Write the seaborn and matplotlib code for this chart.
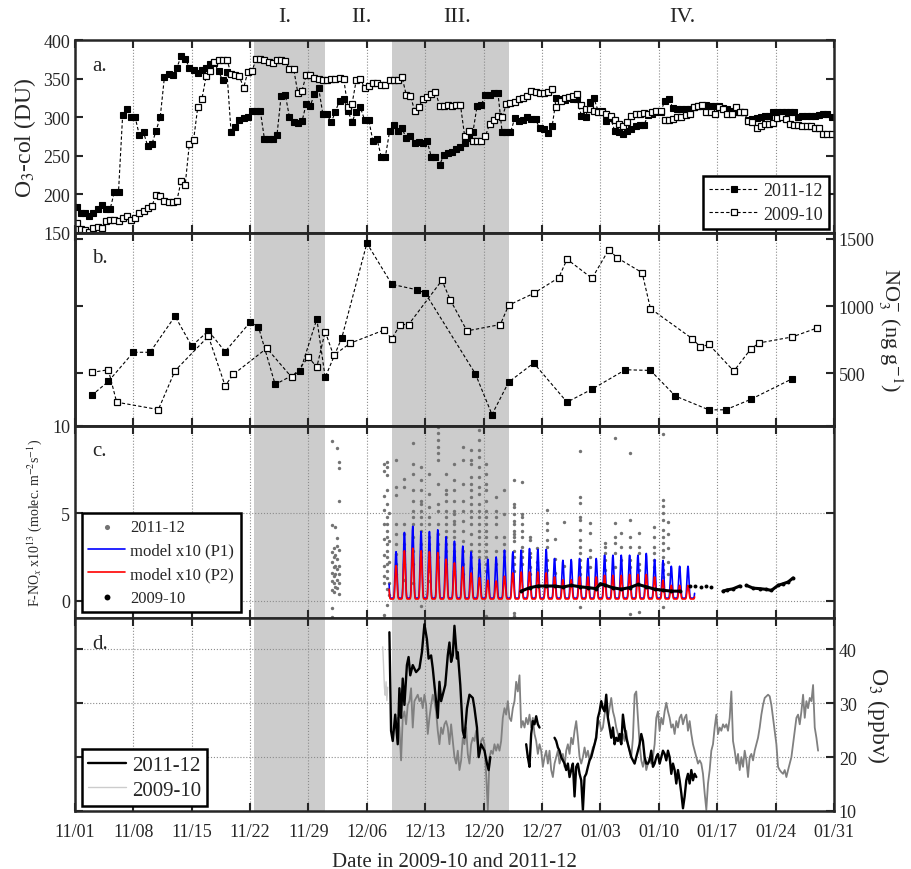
import numpy as np
import pandas as pd
import matplotlib
matplotlib.use('Agg')
import matplotlib.pyplot as plt
import seaborn as sns

# ------------------------------
# 横軸 : 11/01 からの日数
# ------------------------------
tick_days = [0, 7, 14, 21, 28, 35, 42, 49, 56, 63, 70, 77, 84, 91]
tick_labels = ['11/01', '11/08', '11/15', '11/22', '11/29', '12/06', '12/13',
               '12/20', '12/27', '01/03', '01/10', '01/17', '01/24', '01/31']
period_names = ['I.', 'II.', 'III.', 'IV.']
period_days = [25.1, 34.4, 45.8, 72.8]
shade_start = [21.5, 38.0]
shade_end = [30.0, 52.0]

# ------------------------------
# a. O3 column (DU)  1日2回, 0.22日から0.5日おき
# ------------------------------
o3col_first_day = 0.22
o3col_step = 0.5
o3col_2011 = [183.5, 175.6, 175.6, 172.2, 175.2, 180.9, 185.7, 180.9, 180.9, 203.1,
              203.1, 303.3, 310.7, 299.8, 299.8, 276.7, 280.2, 262.8, 264.9, 282.4,
              299.8, 351.6, 356.0, 354.2, 364.2, 379.1, 376.0, 364.2, 361.6, 357.7,
              360.8, 364.2, 369.0, 370.8, 359.4, 347.7, 358.6, 280.2, 287.6, 296.7,
              298.5, 299.8, 308.5, 308.5, 308.5, 271.5, 271.5, 271.5, 276.7, 328.1,
              329.4, 299.8, 293.3, 292.4, 294.6, 317.2, 315.0, 330.3, 337.7, 304.1,
              304.1, 293.3, 307.2, 321.6, 323.7, 308.5, 294.1, 307.2, 312.8, 296.7,
              296.7, 269.3, 271.5, 248.8, 248.8, 281.5, 289.8, 282.4, 285.4, 272.8,
              275.8, 267.1, 268.0, 266.3, 269.3, 248.8, 248.8, 238.0, 251.0, 253.2,
              255.4, 258.4,
              262.0, 267.1, 273.7, 281.1, 315.0, 315.9, 329.4, 329.4, 331.1, 331.1,
              280.2, 280.2, 280.2, 298.5, 295.4, 296.7, 299.8, 297.6, 297.6, 285.4,
              284.5, 278.9, 288.9, 325.0, 323.7, 322.4, 324.6, 323.7, 323.7, 302.0,
              299.8, 320.3, 324.6, 308.5, 308.5, 295.4, 298.5, 282.4, 280.2, 278.0,
              282.4, 284.5, 288.9, 289.8, 289.8, 302.8, 304.1, 306.3, 306.3, 321.6,
              323.7, 311.5, 310.7, 310.7, 310.7, 310.7, 312.8, 314.2, 315.0, 315.9,
              315.0, 315.0, 314.2, 311.5, 310.7, 308.5, 306.3, 306.3, 306.3, 296.7,
              297.6, 298.5, 299.8, 301.1, 302.0, 306.3, 307.2, 307.2, 307.2, 307.2,
              307.2, 299.8, 301.1, 301.1, 302.0, 302.0, 302.8, 304.1, 304.1, 299.8]
o3col_2009 = [162.6, 154.8, 153.9, 151.7, 156.1, 158.2, 156.1, 164.8, 166.9, 166.1,
              165.2, 169.1, 172.2, 166.9, 169.1, 175.6, 177.8, 182.2, 184.4, 199.6,
              197.4, 190.9, 190.0, 190.0, 191.8, 217.0, 212.7, 265.8, 270.2, 312.8,
              323.7, 352.9, 359.4, 371.6, 373.8, 373.8, 374.7, 356.4, 354.2, 352.9,
              338.1, 358.6, 359.4, 376.0, 376.0, 373.8, 371.6, 370.8, 373.8, 374.7,
              373.0, 362.1, 362.9, 331.6, 334.6, 354.2, 355.1, 350.7, 349.9, 348.6,
              347.7, 349.9, 349.9, 350.7, 349.9, 312.8, 317.2, 347.7, 349.9, 337.7,
              340.3, 344.2, 344.6, 342.0, 341.2, 347.7, 347.7, 348.6, 352.0, 329.0,
              328.1, 308.5, 312.8, 323.7, 325.9, 330.3, 333.3, 315.0, 315.0, 315.9,
              315.0, 315.9,
              315.9, 275.8, 282.4, 269.3, 269.3, 269.3, 275.8, 291.1, 296.3, 302.0,
              299.8, 317.2, 318.5, 319.4, 323.7, 324.6, 327.2, 334.6, 333.3, 331.6,
              331.6, 333.3, 336.8, 312.8, 321.6, 324.6, 325.9, 328.1, 330.3, 315.9,
              310.7, 310.7, 308.5, 307.2, 306.3, 304.1, 302.0, 296.7, 291.1, 288.9,
              293.3, 302.0, 304.1, 304.1, 305.0, 304.1, 306.3, 308.5, 308.5, 296.7,
              296.7, 297.6, 299.8, 299.8, 302.8, 304.1, 312.8, 315.0, 315.9, 307.2,
              307.2, 304.1, 312.8, 310.7, 304.1, 304.1, 312.8, 306.3, 306.3, 295.4,
              293.3, 285.4, 288.9, 291.1, 291.1, 291.9, 298.5, 299.8, 297.6, 291.1,
              289.8, 289.8, 288.9, 288.9, 288.0, 285.4, 285.4, 278.0, 278.0, 278.0]

# ------------------------------
# b. 雪の NO3- (ng g-1)
# ------------------------------
no3_2011_day = [2, 4, 7, 9, 12, 14, 16, 18, 21, 22, 24, 27, 29, 30, 32, 35, 38, 41, 42,
                48, 50, 52, 55, 59, 62, 66, 69, 72, 76, 78, 81, 86]
no3_2011 = [336, 440, 657, 657, 925, 704, 816, 662, 880, 846, 418, 515, 905, 470, 766,
            1468, 1162, 1122, 1097, 498, 194, 435, 577, 286, 383, 527, 522, 331, 229,
            229, 306, 460]
no3_2009_day = [2, 4, 5, 10, 12, 16, 18, 19, 23, 26, 28, 29, 30, 31, 33, 37, 38, 39, 40,
                44, 45, 47, 51, 52, 55, 58, 59, 62, 64, 65, 68, 69, 74, 75, 76, 79, 81,
                82, 86, 89]
no3_2009 = [507, 527, 286, 231, 520, 776, 408, 493, 687, 470, 619, 547, 811, 634, 724,
            821, 759, 863, 863, 1192, 1047, 816, 863, 1007, 1095, 1211, 1349, 1207,
            1420, 1360, 1249, 982, 759, 696, 716, 517, 679, 726, 771, 838]

# ------------------------------
# c. F-NOx x10^13 : 2011-12 の測定 (時刻ごとの列)
# ------------------------------
fnox_col_days = [30.8, 31.0, 31.2, 31.4, 31.6, 37.1, 37.4, 37.6, 38.5, 39.4, 40.5, 41.5,
                 42.5, 43.5, 44.5, 45.5, 46.5, 47.5, 48.5, 49.3, 50.5, 51.5, 52.6, 53.6,
                 54.5, 55.4, 56.6, 57.5, 58.6, 60.5, 61.8, 63.5, 64.7, 65.5, 66.5, 67.6,
                 69.4, 70.5, 71.1]
fnox_col_vals = [
    [9.1, 4.3, 2.8, 2.2, 1.6, 1.1, 0.6, -0.4, -0.9],
    [3.0, 2.5, 1.9, 1.4, 1.0, 0.5],
    [4.2, 2.6, 2.0, 1.5, 0.8],
    [8.7, 3.6, 3.1, 2.4, 1.8, 1.2, 0.7],
    [7.9, 7.6, 5.7, 2.9, 2.0, 1.5, 1.0, 0.4],
    [7.8, 7.4, 6.0, 5.2, 4.4, 3.5, 2.6, 2.0, 1.4, 1.0, -0.8],
    [7.93, 7.64, 7.16, 6.3, 5.53, 4.77, 4.38, 4.0, 3.62, 3.23, 2.85, 2.47, 2.08, 1.7, 1.32, 0.65, -0.22],
    [5.0, 3.4, 2.2, 1.0, 0.3],
    [8.02, 6.49, 6.01, 4.38, 3.81, 3.23, 2.66, 2.08, 1.5],
    [6.97, 6.49, 4.38, 3.81, 3.23, 2.85, 2.08, 1.2],
    [8.98, 7.83, 7.26, 6.3, 5.72, 5.15, 4.77, 4.38, 3.62, 2.85, 2.08, 1.0],
    [7.64, 6.87, 6.3, 5.72, 5.53, 5.15, 4.77, 4.38, 4.0, 3.23, 2.85, 2.47, -0.31],
    [7.26, 6.11, 5.34, 4.77, 4.38, 3.62, 3.23, 2.47, 1.7, 1.13],
    [9.94, 9.56, 9.17, 8.79, 8.41, 8.02, 6.68, 5.53, 5.15, 4.38, 3.81, 3.23, 2.47],
    [7.26, 6.3, 6.11, 5.72, 5.15, 4.77, 4.38, 4.0, 3.62, 3.23, 2.85, 2.08],
    [7.83, 6.87, 6.3, 5.72, 5.15, 4.96, 4.57, 4.38, 4.0, 3.62, 3.23, 2.85, 2.47, 1.7],
    [8.79, 8.02, 6.68, 5.72, 5.15, 4.57, 4.0, 3.43, 2.85, 2.08, 1.51],
    [8.6, 8.02, 7.83, 7.06, 6.68, 6.3, 5.92, 5.53, 5.15, 4.77, 4.38, 3.81, 3.23, 2.85, 2.47, 1.89],
    [9.75, 9.17, 8.6, 8.21, 7.64, 7.06, 6.49, 6.11, 5.53, 5.15, 4.77, 4.38, 4.0, 3.62, 3.23, 2.85, 2.47, 2.08],
    [7.83, 7.26, 6.68, 6.3, 5.72, 5.15, 4.77, 4.38, 4.0, 3.62, 3.23, 2.85, 2.47, 2.08, 1.7, -0.88],
    [5.92, 5.15, 4.77, 4.38, 3.62, 2.85, 2.08],
    [6.3, 4.96, 3.62, 3.23, 2.85, 2.47],
    [6.87, 5.53, 5.34, 4.96, 4.57, 4.38, 4.0, 3.81, 3.62, 3.43, 2.85, 2.47, 2.08, 1.7, -0.69, -0.88],
    [6.8, 4.96, 4.77, 4.38, 4.0, 3.62, 3.04, 2.85, 2.47, 2.08],
    [3.65, 3.46, 2.7, 2.51, 1.93, 1.55],
    [3.0, 2.2, 1.8],
    [5.19, 4.42, 4.04, 3.46, 3.08, 2.31, 1.74],
    [3.5, 2.4, 1.6],
    [4.52, 2.0],
    [8.54, 5.95, 5.57, 4.8, 4.61, 4.04, 3.46, 3.08, 2.7, 2.31, 1.93, 1.55, -0.37],
    [4.42, 3.85, 2.89, 2.51, 1.93],
    [3.27, 3.08, 2.7, 2.31, 1.74],
    [9.3, 4.42, 3.65, 3.27, 2.7, 1.93],
    [3.85, 3.08, 2.31],
    [8.44, 4.61, 3.65, 3.08, 2.31, 1.93, -0.75],
    [3.85, 3.08, 2.7, 2.12, 1.74, -0.66],
    [4.23, 3.65, 3.08, 2.7, 2.31, 1.93],
    [9.5, 5.76, 5.38, 5.0, 4.61, 4.04, 3.65, 3.27, 2.89, 2.51, 2.12, 1.74, 1.36, -0.37],
    [4.5, 3.8, 3.0, 2.2, 1.5],
]

# モデル x10 : 日ごとの正午ピーク値と夜間の値
model_days = list(range(37, 75))
model_p1_peak = [2.6, 2.8, 3.9, 4.25, 3.95, 3.95, 4.05, 3.65, 3.4, 3.12, 2.79, 2.37, 2.37,
                 2.5, 2.89, 2.79, 2.89, 2.98, 2.93, 2.93, 2.41, 2.31, 2.35, 2.41, 2.41,
                 2.41, 2.6, 2.6, 2.6, 2.6, 2.6, 2.7, 2.35, 2.3, 1.97, 1.97, 1.97, 1.97]
model_p2_peak = [1.8, 2.0, 2.85, 3.0, 2.85, 2.8, 2.75, 2.37, 2.16, 1.93, 1.59, 1.32, 1.17,
                 1.13, 1.4, 1.59, 1.64, 1.64, 1.64, 1.59, 1.36, 1.2, 1.2, 1.36, 1.36, 1.36,
                 1.45, 1.45, 1.45, 1.5, 1.5, 1.5, 1.36, 1.17, 0.88, 0.88, 0.88, 0.88]
model_p1_night = 0.15
model_p2_night = 0.1
model_first, model_last = 37.66, 74.3
# 1時間ごとの日変化の形 (正午=1)
diurnal_shape = [0, 0, 0, 0, 0, 0.01, 0.05, 0.15, 0.33, 0.55, 0.77, 0.94,
                 1, 0.94, 0.77, 0.55, 0.33, 0.15, 0.05, 0.01, 0, 0, 0, 0]

# 2009-10 の F-NOx (seg 0 は点のみ)
fnox09_day = [53.5, 54.5, 55.5, 56.5, 57.5, 58.5, 59.5, 60.5, 61.5, 62.5, 63.0, 63.5,
              64.5, 65.5, 66.5, 67.5, 68.5, 69.5, 70.5, 71.5, 72.5,
              73.7, 74.3, 75.1, 75.7, 76.3,
              77.7, 78.2, 78.9, 79.7,
              80.5, 81.3, 82.1, 82.9, 83.5, 84.3, 84.9, 85.5, 86.1]
fnox09 = [0.55, 0.74, 0.84, 0.84, 0.84, 0.78, 0.88, 0.80, 0.75, 0.69, 0.97, 0.90,
          0.74, 0.66, 0.75, 0.93, 0.80, 0.66, 0.60, 0.55, 0.55,
          0.83, 0.83, 0.80, 0.82, 0.78,
          0.55, 0.62, 0.68, 0.84,
          0.88, 0.72, 0.69, 0.65, 0.59, 0.88, 0.97, 1.07, 1.30]
fnox09_seg = [1] * 21 + [0] * 5 + [2] * 4 + [3] * 9

# ------------------------------
# d. 地表 O3 (ppbv)
# ------------------------------
o3_2009_first_day = 38.7
o3_2009_step = 0.2
o3_2009 = [27.3, 25.5, 19.4, 27.3, 28.5, 26.1, 29.7, 30.4, 32.8, 25.5,
           30.4, 31.0, 31.6, 30.4, 31.0, 29.1, 31.6, 29.7, 24.3, 27.3,
           29.7, 31.6, 30.4, 28.5, 24.9, 22.4, 25.5, 24.3, 26.1, 26.7,
           25.5, 22.4, 26.1, 23.0, 20.0, 18.8, 21.2, 17.6, 19.4, 23.6,
           22.4, 25.5, 20.6, 18.8, 22.4, 23.6, 23.0, 24.9, 22.4, 20.6,
           23.0, 23.6, 22.4, 16.9, 10.2, 20.0, 21.2, 20.6, 22.4, 21.2,
           22.4, 21.2, 23.0, 27.3, 29.1, 27.9, 30.4, 27.3, 26.7, 29.1,
           30.4, 34.0, 32.2, 35.2, 25.5, 26.7, 25.5, 27.3, 26.1, 27.9,
           25.5, 27.3, 24.3, 23.0, 20.6, 22.4, 21.2, 18.2, 20.0, 21.2,
           18.8, 21.2, 17.6, 16.3, 18.8, 20.0, 21.2, 18.8, 20.0, 20.6,
           18.2, 21.2, 22.4, 20.6, 23.6, 22.4, 24.9, 26.7, 23.6, 20.0,
           18.8, 20.0, 21.8, 20.0, 21.2, 19.4, 20.6, 21.8, 22.4, 24.3,
           26.1, 26.7, 24.9, 25.5, 27.9, 29.1, 27.3, 29.1, 31.0, 28.5,
           27.3, 25.5, 24.3, 23.0, 22.4, 24.3, 23.0, 24.9, 22.4, 21.2,
           20.0, 23.6, 31.6, 32.2, 27.3, 22.4, 19.4, 18.2, 20.0, 17.6,
           18.8, 20.0, 18.8, 20.0, 22.4, 27.3, 28.5, 24.9, 27.3, 26.1,
           28.5, 30.1, 28.5, 27.3, 25.5, 26.1, 24.3, 26.7, 25.5, 27.3,
           27.9, 26.1, 27.3,
           27.9, 24.9, 26.7, 24.3, 22.4, 21.2, 20.0, 18.8, 19.4, 18.8,
           16.9, 13.3, 10.2, 15.1, 17.6, 21.2, 22.4, 25.5, 27.9, 24.3,
           25.5, 24.9, 26.1, 25.5, 26.1, 24.9, 27.3, 32.2, 23.0, 21.2,
           18.8, 20.6, 17.6, 20.0, 18.2, 21.2, 19.4, 16.3, 20.0, 20.6,
           19.4, 21.2, 22.4, 23.6, 25.5, 27.9, 29.7, 31.0, 31.3, 31.6,
           31.3, 29.7, 27.3, 24.9, 22.4, 18.2, 17.6, 17.2, 16.9, 17.6,
           16.3, 17.6, 18.8, 20.0, 22.4, 24.9, 27.3, 27.9, 26.1, 28.5,
           31.6, 27.3, 30.4, 29.1, 31.0, 30.4, 33.4, 25.5, 23.6, 21.2]
o3_2009_early_day = [36.9, 37.0, 37.1, 37.2, 37.3, 37.4, 37.5]
o3_2009_early = [40.5, 37.0, 33.0, 31.5, 34.0, 30.5, 33.0]

o3_2011_a_day = [37.7, 37.9, 38.1, 38.4, 38.7, 38.9, 39.1, 39.3, 39.5, 39.8,
                 40.0, 40.2, 40.5, 40.9, 41.3, 41.6, 41.9, 42.2, 42.4, 42.7,
                 42.9, 43.1, 43.3, 43.5, 43.7, 43.9, 44.2, 44.4, 44.7, 44.9,
                 45.1, 45.3, 45.5, 45.8, 45.9, 46.2, 46.5, 46.7, 47.0, 47.3,
                 47.7, 47.9, 48.2, 48.4, 48.7, 49.1, 49.4, 49.6, 49.8]
o3_2011_a = [43.2, 24.9, 23.0, 27.9, 22.4, 32.8, 27.3, 34.6, 29.7, 37.1,
             38.6, 35.2, 37.1, 35.8, 36.5, 39.5, 44.7, 41.9, 38.3, 38.9,
             36.5, 33.4, 30.4, 27.3, 34.0, 30.4, 32.2, 33.4, 38.9, 41.3,
             37.7, 38.9, 44.4, 38.3, 39.5, 33.4, 24.9, 23.6, 29.1, 31.6,
             31.0, 29.1, 25.5, 20.0, 22.4, 21.2, 18.8, 17.6, 20.0]
o3_2011_b_first_day = 54.1
o3_2011_b = [22.4, 20.0, 18.2, 24.3, 26.7, 26.1, 27.6, 26.1, 25.5]
o3_2011_c_first_day = 57.5
o3_2011_c = [23.6, 23.0, 21.8, 21.2, 20.0, 19.4, 18.8, 17.6, 18.8, 16.3,
             17.6, 18.8, 12.7, 18.2, 18.8, 16.9, 15.7, 10.2, 16.3, 16.9,
             18.2, 19.4, 20.0, 21.2, 22.4, 23.6, 27.3, 28.5, 30.4, 29.1,
             28.5, 31.6, 27.3, 25.5, 23.6, 25.5, 22.4, 23.6, 23.0, 24.3,
             22.4, 27.9, 25.5, 23.6, 22.4, 21.2, 20.0, 19.4, 18.8, 20.0,
             21.2, 22.4, 24.3, 23.0, 20.0, 18.8, 18.8, 19.4, 21.2, 18.2,
             18.8, 20.0, 20.6, 18.8, 20.0, 21.2, 20.6, 19.4, 21.2, 20.0,
             16.9, 18.8, 17.6, 15.1, 17.6, 15.7, 13.3, 10.5, 12.7,
             15.7, 16.9, 15.1, 17.6, 15.7, 16.9, 16.3]
o3_2011_step = 0.2

# ------------------------------
# 描画
# ------------------------------
sns.set_style('ticks')
plt.rcParams['font.family'] = ['Liberation Serif', 'DejaVu Serif']
plt.rcParams['mathtext.fontset'] = 'stix'
plt.rcParams['axes.axisbelow'] = 'line'

fig = plt.figure(figsize=(9.12, 8.7), dpi=100)
L, W, H = 0.0822, 0.8322, 0.2215
ax_a = fig.add_axes([L, 0.7312, W, H])
ax_b = fig.add_axes([L, 0.5097, W, H])
ax_c = fig.add_axes([L, 0.2882, W, H])
ax_d = fig.add_axes([L, 0.0667, W, H])
ax_b2 = ax_b.twinx()


def style_panel(ax, letter):
    ax.set_xlim(0, 91)
    ax.set_xticks(tick_days)
    ax.set_xticklabels(tick_labels if ax is ax_d else [])
    for s0, s1 in zip(shade_start, shade_end):
        ax.axvspan(s0, s1, color='#cccccc', lw=0, zorder=0)
    ax.grid(axis='x', ls=':', lw=0.8, color='0.55')
    ax.tick_params(direction='in', length=6, width=1.5, top=True, bottom=True,
                   left=True, right=True, labelsize=13)
    ax.tick_params(axis='x', pad=9)
    ax.text(0.023, 0.87, letter, transform=ax.transAxes, fontsize=15, va='center')


def box_legend(ax, **kw):
    leg = ax.legend(frameon=True, fancybox=False, framealpha=1, edgecolor='k',
                    borderaxespad=0, **kw)
    leg.get_frame().set_linewidth(1.8)
    return leg


for ax, letter in zip([ax_a, ax_b, ax_c, ax_d], ['a.', 'b.', 'c.', 'd.']):
    style_panel(ax, letter)

dash = (0, (3, 2))

# --- a ---
o3col_days = o3col_first_day + o3col_step * np.arange(len(o3col_2011))
sns.lineplot(x=o3col_days, y=o3col_2011, ax=ax_a, estimator=None, color='k', lw=0.8,
             linestyle=dash, marker='s', markersize=5, mfc='k', mec='k', mew=0.8,
             label='2011-12')
o3col_days09 = o3col_first_day + o3col_step * np.arange(len(o3col_2009))
sns.lineplot(x=o3col_days09, y=o3col_2009, ax=ax_a, estimator=None, color='k', lw=0.8,
             linestyle=dash, marker='s', markersize=5, mfc='white', mec='k', mew=0.9,
             label='2009-10')
ax_a.set_ylim(150, 400)
ax_a.set_yticks([150, 200, 250, 300, 350, 400])
ax_a.set_ylabel('O$_3$-col (DU)', fontsize=17, labelpad=4)
box_legend(ax_a, loc='lower right', bbox_to_anchor=(0.994, 0.02), fontsize=13,
           handlelength=2.7, borderpad=0.35, labelspacing=0.35, handletextpad=0.3)
for name, d in zip(period_names, period_days):
    ax_a.text(d, 1.125, name, transform=ax_a.get_xaxis_transform(), ha='center',
              va='center', fontsize=16)

# --- b ---
ax_b.set_ylim(10, 150)
ax_b.set_yticks([])
sns.lineplot(x=no3_2011_day, y=no3_2011, ax=ax_b2, estimator=None, color='k', lw=0.8,
             linestyle=dash, marker='s', markersize=5, mfc='k', mec='k', mew=0.8)
sns.lineplot(x=no3_2009_day, y=no3_2009, ax=ax_b2, estimator=None, color='k', lw=0.8,
             linestyle=dash, marker='s', markersize=5, mfc='white', mec='k', mew=0.9)
ax_b2.set_ylim(112, 1545)
ax_b2.set_yticks([500, 1000, 1500])
ax_b2.tick_params(axis='y', direction='in', length=6, width=1.5, left=True, right=True,
                  labelleft=False, labelright=True, labelsize=13)
ax_b2.set_ylabel('NO$_3^{-}$ (ng g$^{-1}$)', fontsize=16, rotation=270, va='bottom',
                 labelpad=1)

# --- c ---
flux_rows = [(d, v) for d, vals in zip(fnox_col_days, fnox_col_vals) for v in vals]
flux_df = pd.DataFrame(flux_rows, columns=['day', 'flux'])
sns.scatterplot(data=flux_df, x='day', y='flux', ax=ax_c, color='0.45', s=6,
                linewidth=0, label='2011-12', zorder=2)

model_t = np.array([d + h / 24 for d in model_days for h in range(24)])
model_p1 = np.array([model_p1_night + (pk - model_p1_night) * s
                     for pk in model_p1_peak for s in diurnal_shape])
model_p2 = np.array([model_p2_night + (pk - model_p2_night) * s
                     for pk in model_p2_peak for s in diurnal_shape])
keep = (model_t >= model_first) & (model_t <= model_last)
sns.lineplot(x=model_t[keep], y=model_p1[keep], ax=ax_c, estimator=None,
             color='#0000ff', lw=1.2, label='model x10 (P1)')
sns.lineplot(x=model_t[keep], y=model_p2[keep], ax=ax_c, estimator=None,
             color='#ff0000', lw=1.2, label='model x10 (P2)')

f09 = pd.DataFrame({'day': fnox09_day, 'flux': fnox09, 'seg': fnox09_seg})
for seg, grp in f09[f09.seg > 0].groupby('seg'):
    sns.lineplot(data=grp, x='day', y='flux', ax=ax_c, estimator=None, color='k', lw=2.2)
sns.scatterplot(data=f09, x='day', y='flux', ax=ax_c, color='k', s=8, linewidth=0,
                label='2009-10', zorder=3)
ax_c.set_ylim(-1, 10)
ax_c.set_yticks([0, 5, 10])
ax_c.grid(axis='y', ls=':', lw=0.8, color='0.55')
ax_c.set_xlabel('')
ax_c.set_ylabel('F-NO$_x$ x10$^{13}$ (molec. m$^{-2}$s$^{-1}$)', fontsize=10, labelpad=6)
h, l = ax_c.get_legend_handles_labels()
order = ['2011-12', 'model x10 (P1)', 'model x10 (P2)', '2009-10']
box_legend(ax_c, handles=[h[l.index(o)] for o in order], labels=order,
           loc='lower left', bbox_to_anchor=(0.009, 0.03), fontsize=12,
           handlelength=2.2, borderpad=0.4, labelspacing=0.45, handletextpad=0.3,
           markerscale=1.5)

# --- d ---
o3_09_days = o3_2009_first_day + o3_2009_step * np.arange(len(o3_2009))
sns.lineplot(x=o3_09_days, y=o3_2009, ax=ax_d, estimator=None, color='0.5', lw=1.3)
sns.lineplot(x=o3_2009_early_day, y=o3_2009_early, ax=ax_d, estimator=None,
             color='0.8', lw=1.0, label='2009-10')
sns.lineplot(x=o3_2011_a_day, y=o3_2011_a, ax=ax_d, estimator=None, color='k', lw=1.7,
             label='2011-12')
o3_b_days = o3_2011_b_first_day + o3_2011_step * np.arange(len(o3_2011_b))
sns.lineplot(x=o3_b_days, y=o3_2011_b, ax=ax_d, estimator=None, color='k', lw=1.7)
o3_c_days = o3_2011_c_first_day + o3_2011_step * np.arange(len(o3_2011_c))
sns.lineplot(x=o3_c_days, y=o3_2011_c, ax=ax_d, estimator=None, color='k', lw=1.7)
ax_d.set_ylim(10, 45.8)
ax_d.set_yticks([10, 20, 30, 40])
ax_d.grid(axis='y', ls=':', lw=0.8, color='0.55')
ax_d.tick_params(axis='y', labelleft=False, labelright=True)
ax_d.yaxis.set_label_position('right')
ax_d.set_ylabel('O$_3$ (ppbv)', fontsize=17, rotation=270, va='bottom', labelpad=6)
ax_d.set_xlabel('Date in 2009-10 and 2011-12', fontsize=15, labelpad=8)
h, l = ax_d.get_legend_handles_labels()
order = ['2011-12', '2009-10']
box_legend(ax_d, handles=[h[l.index(o)] for o in order], labels=order,
           loc='lower left', bbox_to_anchor=(0.009, 0.026), fontsize=15,
           handlelength=1.8, borderpad=0.3, labelspacing=0.25, handletextpad=0.3)

for ax in [ax_a, ax_b, ax_b2, ax_c, ax_d]:
    for sp in ax.spines.values():
        sp.set_visible(True)
        sp.set_linewidth(1.8)
    if ax is not ax_d:
        ax.set_xlabel('')

fig.savefig('out.png', dpi=100)
